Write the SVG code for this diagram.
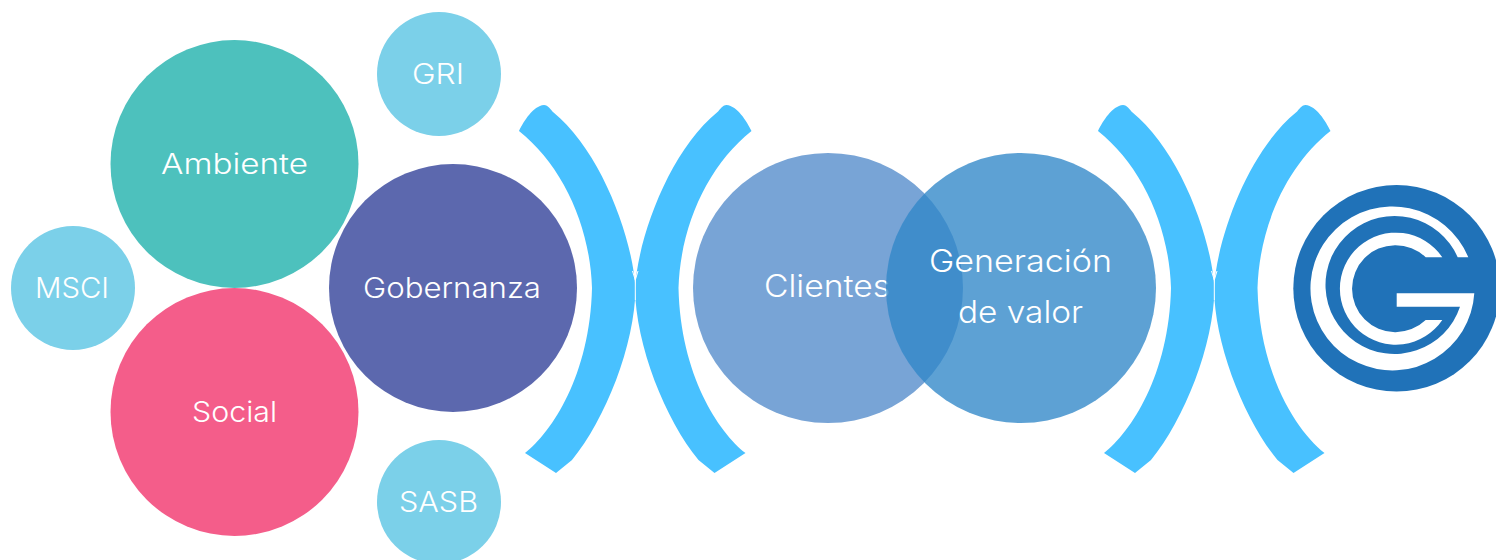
<svg xmlns="http://www.w3.org/2000/svg" width="1496" height="560" viewBox="0 0 1496 560">
<style>
text{font-family:"Inter","Open Sans","Liberation Sans",sans-serif;font-weight:300;font-size:28px;fill:#fff;text-anchor:middle}
.big{font-size:31px}
.small{fill:#7BD0E9}
.br{fill:#48C1FF}
.seam{fill:none;stroke:#fff;stroke-width:1}
</style>
<defs>
<path id="bracket" class="br" d="M519,131 C524,121 533,106 544,105 C548,105 551,110 553,112 C600,150 632,235 635.5,288 C635,345 605,420 572,460 L556,473 L525,453 C552,432 590,375 592,288 C590,225 562,165 519,131 Z"/>
</defs>
<rect width="1496" height="560" fill="#fff"/>
<g id="node-ambiente"><circle cx="234.5" cy="164" r="124" fill="#4DC1BD"/><text x="234.5" y="174" textLength="147" lengthAdjust="spacingAndGlyphs">Ambiente</text></g>
<g id="node-social"><circle cx="234.5" cy="412" r="124" fill="#F45D8A"/><text x="234.5" y="422" textLength="85" lengthAdjust="spacingAndGlyphs">Social</text></g>
<g id="node-gobernanza"><circle cx="453" cy="288" r="124" fill="#5C68AE"/><text x="452" y="298" textLength="178" lengthAdjust="spacingAndGlyphs">Gobernanza</text></g>
<g id="node-gri"><circle class="small" cx="439" cy="74" r="62"/><text x="438" y="84" textLength="52" lengthAdjust="spacingAndGlyphs">GRI</text></g>
<g id="node-msci"><circle class="small" cx="73" cy="288" r="62"/><text x="72" y="298" textLength="74" lengthAdjust="spacingAndGlyphs">MSCI</text></g>
<g id="node-sasb"><circle class="small" cx="439" cy="502" r="62"/><text x="438.5" y="512" textLength="79" lengthAdjust="spacingAndGlyphs">SASB</text></g>
<g id="connectors">
<use href="#bracket"/>
<use href="#bracket" transform="translate(1270.5,0) scale(-1,1)"/>
<use href="#bracket" transform="translate(579,0)"/>
<use href="#bracket" transform="translate(1849.5,0) scale(-1,1)"/>
<path class="seam" d="M635.3,272 V300 M632.5,271 L635.3,280 L638,271 M1214.3,272 V300 M1211.5,271 L1214.3,280 L1217,271"/>
</g>
<g id="node-clientes"><circle cx="828" cy="288" r="135" fill="#78A4D6"/><text class="big" x="827" y="297" textLength="126" lengthAdjust="spacingAndGlyphs">Clientes</text></g>
<g id="node-generacion"><circle cx="1021" cy="288" r="135" fill="#3187C8" fill-opacity="0.785"/><text class="big" x="1020.5" y="272" textLength="183" lengthAdjust="spacingAndGlyphs">Generación</text><text class="big" x="1020.5" y="323" textLength="125" lengthAdjust="spacingAndGlyphs">de valor</text></g>
<g id="node-logo"><circle cx="1396.6" cy="288.3" r="103.3" fill="#2072B8"/>
<path fill="#fff" d="M1468.3,257.3 A82,82 0 1 0 1474.3,293.3 L1396.7,293.3 L1396.7,306.7 L1460,306.7 A69,69 0 1 1 1457.7,257.3 Z"/>
<path fill="#fff" d="M1442.3,257.3 A56,56 0 1 0 1442.3,320 L1425.7,320 A43.5,43.5 0 1 1 1425.7,257.3 Z"/>
</g>
</svg>
